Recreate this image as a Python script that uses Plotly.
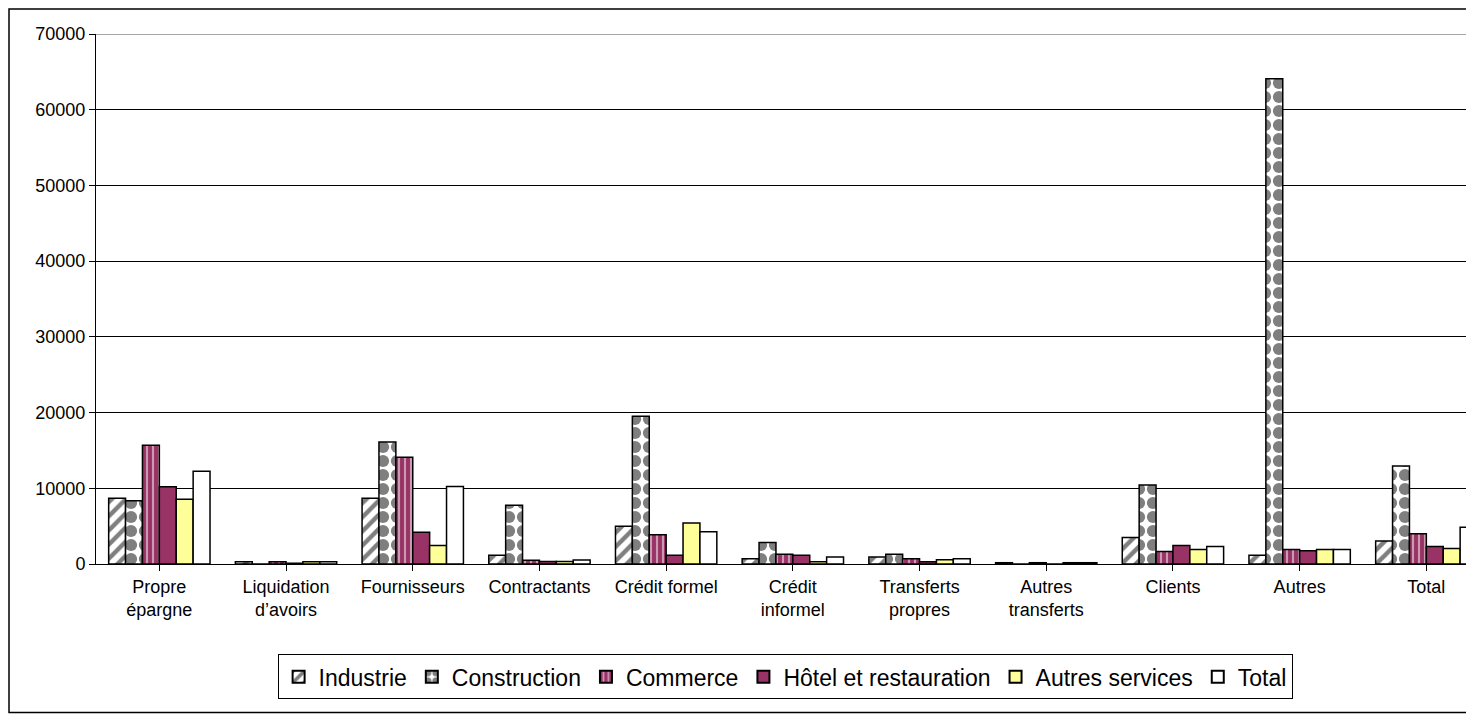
import plotly.graph_objects as go

categories = ["Propre<br>épargne", "Liquidation<br>d’avoirs", "Fournisseurs", "Contractants",
              "Crédit formel", "Crédit<br>informel", "Transferts<br>propres", "Autres<br>transferts",
              "Clients", "Autres", "Total"]

industrie = [8700, 300, 8700, 1150, 5000, 700, 920, 170, 3500, 1150, 3050]
construction = [8350, 0, 16100, 7750, 19500, 2850, 1300, 0, 10450, 64100, 12950]
commerce = [15700, 300, 14100, 500, 3850, 1300, 700, 170, 1650, 1900, 4000]
hotel = [10200, 100, 4200, 330, 1150, 1150, 300, 0, 2450, 1750, 2300]
autres_services = [8550, 300, 2450, 330, 5400, 300, 570, 170, 1900, 1900, 2050]
total = [12250, 300, 10250, 530, 4250, 920, 700, 170, 2300, 1900, 4850]

y_ticks = [0, 10000, 20000, 30000, 40000, 50000, 60000, 70000]

purple = "#993366"
series = [
    ("Industrie", industrie, dict(shape="/", fgcolor="black", bgcolor="white", size=10, solidity=0.45)),
    ("Construction", construction, dict(shape=".", fgcolor="black", bgcolor="white", size=14, solidity=0.6)),
    ("Commerce", commerce, dict(shape="|", fgcolor="white", bgcolor=purple, size=6, solidity=0.35)),
    ("Hôtel et restauration", hotel, None),
    ("Autres services", autres_services, None),
    ("Total", total, None),
]
solid = {"Hôtel et restauration": purple, "Autres services": "#FFFF99", "Total": "white"}

fig = go.Figure()
for name, vals, pat in series:
    marker = dict(line=dict(color="black", width=1.5))
    if pat:
        marker["color"] = "white"
        marker["pattern"] = pat
    else:
        marker["color"] = solid[name]
    fig.add_trace(go.Bar(x=list(range(len(categories))), y=vals, name=name, marker=marker))

# page body has an 8px margin; keep the figure inside the window
fig.update_layout(
    width=1458, height=706,
    margin=dict(l=88, r=0, t=26, b=150),
    paper_bgcolor="white", plot_bgcolor="white",
    barmode="group", bargap=0.2, bargroupgap=0,
    font=dict(family="Liberation Sans, Arial", color="black"),
    legend=dict(orientation="h", x=0.503, xanchor="center", y=-0.213, yanchor="middle",
                bordercolor="black", borderwidth=1, bgcolor="white",
                font=dict(size=23), itemsizing="constant", tracegroupgap=0),
    showlegend=True,
)
fig.update_xaxes(
    tickmode="array", tickvals=list(range(len(categories))), ticktext=categories,
    range=[-0.5, 10.313], tickson="boundaries", ticks="outside", ticklen=6,
    tickcolor="black", showline=True, linecolor="black", linewidth=1,
    showgrid=False, tickfont=dict(size=18), zeroline=False,
)
fig.update_yaxes(
    range=[0, 70000], tickmode="array", tickvals=y_ticks, ticktext=[str(v) for v in y_ticks],
    ticks="outside", ticklen=6, tickcolor="black", showline=True, linecolor="black", linewidth=1,
    showgrid=True, gridcolor="black", gridwidth=1, tickfont=dict(size=18), zeroline=False,
)
fig.add_shape(type="line", xref="paper", yref="y", x0=0, x1=1, y0=70000, y1=70000,
              line=dict(color="#888888", width=1.5))
fig.add_shape(type="rect", xref="paper", yref="paper", x0=-0.0635, y0=-0.28, x1=1.05, y1=1.047,
              line=dict(color="black", width=1.5), layer="below")

fig.write_html("out.html")
